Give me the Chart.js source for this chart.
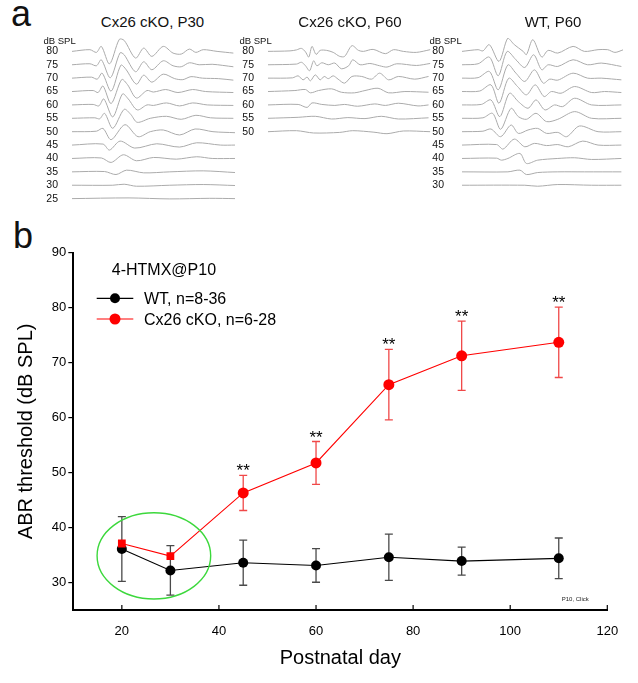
<!DOCTYPE html>
<html lang="en">
<head>
<meta charset="UTF-8">
<title>ABR threshold after 4-HTMX@P10</title>
<script src="https://cdn.jsdelivr.net/npm/chart.js@4.4.1/dist/chart.umd.min.js"></script>
<style>
	html, body { margin: 0; padding: 0; background: #fff; }
	#fig { position: relative; width: 638px; height: 683px; overflow: hidden; font-family: "Liberation Sans", Arial, sans-serif; color: #111; }
	#fig canvas, #fig .txt { position: absolute; }
	.txt { line-height: 1; white-space: nowrap; }
</style>
</head>
<body>
<div id="fig">
	<div class="txt" style="left:11px;top:-4px;font-size:36px">a</div>
	<div class="txt" style="left:13px;top:218px;font-size:36px">b</div>
	<canvas id="wave0" width="10" height="10"></canvas>
	<canvas id="wave1" width="10" height="10"></canvas>
	<canvas id="wave2" width="10" height="10"></canvas>
	<canvas id="mainChart" width="638" height="468" style="left:0;top:215px"></canvas>
</div>

<script>
// ---- panel a: ABR waveforms, [time ms, amplitude] pairs ----
const panelTitles = ["Cx26 cKO, P30", "Cx26 cKO, P60", "WT, P60"]

const p30Levels = [80, 75, 70, 65, 60, 55, 50, 45, 40, 35, 30, 25]
const p30Traces = [
	[[0,0],[1.1,1.7],[1.5,-1],[1.8,5],[2.3,-12.5],[2.9,12],[3.2,11],[3.9,-6.7],[4.4,3.3],[4.9,-5],[5.6,5],[6.2,-1.7],[6.7,-2.7],[7.2,2.3],[7.6,-1],[8.05,1.7],[8.9,0],[9.9,-1.7]],
	[[0,0],[1.1,1],[1.5,-1],[1.8,5],[2.35,-13],[2.95,12],[3.2,10],[3.9,-7],[4.4,3],[4.9,-5],[5.6,4],[6.2,-1],[6.7,-2],[7.2,2],[7.8,0],[8.6,0.5],[9.9,-2]],
	[[0,0],[1.2,1],[1.55,-1],[1.85,5],[2.4,-13],[3.0,13],[3.3,9],[3.95,-6],[4.4,3],[4.9,-4],[5.6,4],[6.3,-0.5],[6.8,-1.5],[7.3,1.5],[8.0,0],[9.0,-0.5],[9.9,-2]],
	[[0,0],[1.3,1],[1.6,-1],[1.9,5.5],[2.4,-12],[3.05,12],[3.4,7],[3.95,-6.5],[4.6,1],[5.0,-0.5],[5.75,2],[6.5,-1],[7.4,2],[8.2,0],[9.9,-1]],
	[[0,0],[1.3,0.5],[1.65,-1],[1.95,6],[2.5,-12],[3.1,11],[3.45,6],[4.0,-5],[4.6,0],[5.0,-0.5],[5.8,2],[6.6,-1],[7.4,2],[8.3,0],[9.9,-0.5]],
	[[0,0],[1.4,0.5],[1.7,-0.5],[2.0,5],[2.5,-10],[3.2,9],[3.6,4],[4.0,-4],[4.8,0],[5.8,2],[6.7,-1],[7.6,3],[8.5,0.5],[9.9,0]],
	[[0,0],[1.5,0.5],[1.9,3.3],[2.4,-8],[3.25,7],[4.05,-5],[4.8,0],[5.6,1.7],[6.6,-3.3],[7.55,2.7],[8.65,0],[10,-1]],
	[[0,0],[1.9,1],[2.3,-5],[2.95,4],[3.85,-3],[5.2,1.3],[6.6,-2],[7.65,2.3],[9.1,0],[10,0]],
	[[0,0],[1.8,0.5],[2.4,-4],[3.15,3.7],[3.95,-2.3],[5.0,1],[6.4,-0.7],[7.65,1.7],[8.6,0],[10,0]],
	[[0,0],[2.0,0.3],[2.7,-2.7],[3.35,1.7],[4.4,-1],[6.0,0],[8.05,1],[10,-0.7]],
	[[0,0],[2.5,0],[3.2,1],[3.95,-1],[6.0,0],[8.05,0.7],[10,-0.3]],
	[[0,0],[3.5,0.7],[6.0,-0.3],[8.45,0.3],[10,0]]
]

const p60KoLevels = [80, 75, 70, 65, 60, 55, 50]
const p60KoTraces = [
	[[0,0],[1.35,0.5],[1.75,1.5],[2.05,3],[2.3,-0.5],[2.5,-5.7],[2.7,5],[2.95,-3],[3.2,1],[3.6,1],[4.0,-1],[4.4,-5],[4.7,-5],[5.15,5.7],[5.55,1],[5.85,0],[6.45,2],[7.2,-2.3],[7.7,1.7],[8.3,0],[9.1,-1],[9.95,1.7]],
	[[0,0],[1.75,0.7],[2.05,2.5],[2.3,-1],[2.55,-6],[2.8,4],[3.0,-1],[3.3,2],[3.7,0],[4.1,1.7],[4.5,-4],[4.95,-1],[5.2,5],[5.65,0],[6.25,1.3],[6.85,-1],[7.3,-2.3],[7.9,1],[9.1,-0.7],[9.95,1.3]],
	[[0,0],[1.5,0.3],[1.85,2.3],[2.15,-1.7],[2.4,1],[2.6,-2.7],[2.9,3.3],[3.2,-1.7],[3.45,1.7],[3.7,-0.5],[4.0,2.3],[4.3,-1],[4.7,-5],[5.15,1.7],[5.75,1.7],[6.35,-1],[6.85,5],[7.4,-1.7],[8.0,1.7],[9.0,-1],[9.85,1.7]],
	[[0,0],[1.65,1],[2.3,2],[2.6,-1.3],[3.1,1],[3.9,2.7],[4.5,-0.7],[5.3,-1.3],[5.95,1],[6.75,3.3],[7.4,-1.3],[8.4,0],[9.85,-0.7]],
	[[0,0],[1.85,0.5],[2.4,-2.5],[2.7,2],[3.3,0.5],[4.1,-0.5],[4.7,0.5],[5.5,-1.3],[6.55,1],[7.2,-0.5],[8.0,1.7],[9.2,-1],[9.85,0]],
	[[0,0],[1.85,1],[2.9,2],[3.9,-0.7],[4.9,0.7],[5.95,-0.3],[6.95,2],[8.0,-0.7],[9.85,0.5]],
	[[0,0],[1.75,1],[2.8,-1.3],[4.4,-0.7],[5.2,1],[6.5,-0.5],[7.3,-2],[8.3,0.7],[9.95,0]]
]

const p60WtLevels = [80, 75, 70, 65, 60, 55, 50, 45, 40, 35, 30]
const p60WtTraces = [
	[[0,0],[1.0,1.7],[1.3,0.5],[1.7,6.7],[2.3,-10],[2.85,13.3],[3.25,6.7],[3.8,0],[4.0,-3.3],[4.4,11.7],[4.95,-5.7],[5.35,1],[5.95,-1.7],[6.9,5],[7.6,0],[8.45,1.7],[9.05,1.7],[9.5,-1],[10,1.5]],
	[[0,0],[1.0,1],[1.7,7.7],[2.25,-11],[2.8,13.3],[3.35,5],[3.9,-2.7],[4.45,10],[4.95,-5],[5.35,0],[5.95,-1.7],[6.9,5],[7.8,0],[8.65,1.7],[9.9,-1.7]],
	[[0,0],[1.0,0.5],[1.7,6.7],[2.25,-11.7],[2.85,13.3],[3.35,5],[3.9,-3.3],[4.5,8.3],[5.05,-5],[5.45,-1],[5.95,-2],[6.9,5],[7.8,0],[8.65,0],[9.9,-1.7]],
	[[0,0],[1.1,0.5],[1.8,6.7],[2.3,-11.7],[2.9,13.3],[3.45,5],[4.0,-3.3],[4.55,6.7],[5.1,-5],[5.55,0],[6.15,-1.7],[7.0,5],[8.05,-1],[8.85,0],[9.9,-1]],
	[[0,0],[1.2,0.5],[1.8,5],[2.35,-11.7],[2.95,11.7],[3.5,3.3],[4.1,-3.3],[4.6,5],[5.15,-5],[5.75,0],[6.25,-1.7],[7.0,6.7],[8.05,0],[9.9,0]],
	[[0,0],[1.3,0.5],[1.9,5],[2.4,-11],[3.05,10],[3.5,1.7],[4.0,-1],[4.6,5],[5.25,-3.3],[5.95,-1],[7.0,6.7],[8.05,0],[9.9,0]],
	[[0,0],[1.3,0.5],[1.8,2.7],[2.4,-5],[3.05,6.7],[3.5,-1.7],[4.1,1.7],[4.7,3.3],[5.25,-1.7],[5.95,-0.7],[6.5,-5],[7.3,5.7],[8.45,0],[9.9,0]],
	[[0,0],[2.15,0.5],[2.55,-4],[3.25,6],[3.9,-1.7],[4.5,1.7],[5.25,-0.5],[5.95,0.5],[6.6,-1.7],[7.5,4],[8.45,0],[9.9,0]],
	[[0,0],[2.15,0.3],[2.45,-1.7],[2.85,0],[3.6,5],[4.0,-5],[4.7,-1.7],[5.95,0],[7.0,0.7],[8.05,-1],[9.9,0]],
	[[0,0],[2.85,0],[3.6,1.7],[4.0,-2.7],[4.7,-0.7],[5.95,0],[7.6,0],[9.9,0]],
	[[0,0],[3.9,0],[4.7,-1],[5.95,0.7],[8.05,0],[9.9,0]]
]

// ---- panel b: thresholds ----
const days = [20, 30, 45, 60, 75, 90, 110]
const wtMean = [36.1, 32.2, 33.6, 33.1, 34.6, 33.9, 34.4]
const wtErr = [5.9, 4.5, 4.1, 3.05, 4.2, 2.55, 3.7]
const koMean = [37.1, 34.8, 46.3, 51.75, 66.0, 71.25, 73.7]
const koErr = [0, 0, 3.2, 3.9, 6.4, 6.3, 6.4]
const koMarker = ["rect", "rect", "circle", "circle", "circle", "circle", "circle"]
const koStars = ["", "", "**", "**", "**", "**", "**"]
const xTicks = [20, 40, 60, 80, 100, 120]
const yTicks = [30, 40, 50, 60, 70, 80, 90]
const seriesLabels = ["WT, n=8-36", "Cx26 cKO, n=6-28"]
const legendTitle = "4-HTMX@P10"
const circledRegion = {x: 26.6, y: 34.85, rx: 11.7, ry: 7.85}

const FONT = '"Liberation Sans", Arial, sans-serif'
const fig = document.getElementById("fig")

function addText(text, left, top, size, center) {
	const d = document.createElement("div")
	d.className = "txt"
	d.textContent = text
	d.style.left = left + "px"
	d.style.top = top + "px"
	d.style.fontSize = size + "px"
	if(center) d.style.transform = "translateX(-50%)"
	fig.appendChild(d)
}

// panel a
const panels = [
	{levels: p30Levels, traces: p30Traces, start: 72, end: 235, pad: 6, titleX: 152.5, unitX: 43.5},
	{levels: p60KoLevels, traces: p60KoTraces, start: 268, end: 431, pad: 6, titleX: 350, unitX: 239.5},
	{levels: p60WtLevels, traces: p60WtTraces, start: 462, end: 623, pad: 10, titleX: 553, unitX: 429.5}
]
const traceGain = 5 / 13.4

panels.forEach((p, i) => {
	addText(panelTitles[i], p.titleX, 13.5, 15, true)
	addText("dB SPL", p.unitX, 36, 9.5, false)

	const cv = document.getElementById("wave" + i)
	const left = p.start - 40
	cv.width = p.end - left
	cv.height = 174
	cv.style.left = left + "px"
	cv.style.top = "38px"

	new Chart(cv, {
		type: "line",
		data: {
			datasets: p.traces.map((tr, j) => ({
				data: tr.map(pt => ({x: pt[0], y: p.levels[j] + pt[1] * traceGain})),
				borderColor: "#ababab",
				borderWidth: 1,
				pointRadius: 0,
				tension: 0.3,
				fill: false
			}))
		},
		options: {
			responsive: false,
			animation: false,
			events: [],
			plugins: {legend: {display: false}, tooltip: {enabled: false}},
			scales: {
				x: {type: "linear", display: false, min: 0, max: 10},
				y: {
					type: "linear", min: 20, max: 85,
					grid: {display: false},
					border: {display: false},
					ticks: {color: "#111", padding: p.pad, autoSkip: false, font: {family: FONT, size: 10.5}},
					afterBuildTicks: s => { s.ticks = p.levels.map(v => ({value: v})) },
					afterFit: s => { s.width = 40; s.paddingTop = 0; s.paddingBottom = 0 }
				}
			}
		}
	})
})

// panel b
const errorBars = {
	id: "errorBars",
	beforeDatasetsDraw(chart) {
		const {ctx, scales: {x, y}} = chart
		chart.data.datasets.forEach(ds => {
			ctx.save()
			ctx.strokeStyle = ds.errColor
			ctx.lineWidth = 1.3
			ds.data.forEach((pt, i) => {
				const e = ds.errors[i]
				if(!e) return
				const px = x.getPixelForValue(pt.x)
				const top = y.getPixelForValue(pt.y + e)
				const bot = y.getPixelForValue(pt.y - e)
				ctx.beginPath()
				ctx.moveTo(px, top); ctx.lineTo(px, bot)
				ctx.moveTo(px - 4, top); ctx.lineTo(px + 4, top)
				ctx.moveTo(px - 4, bot); ctx.lineTo(px + 4, bot)
				ctx.stroke()
			})
			ctx.restore()
		})
	}
}

const extras = {
	id: "extras",
	afterDatasetsDraw(chart) {
		const {ctx, chartArea: a, scales: {x, y}} = chart
		ctx.save()

		// green ellipse around the early time points
		const cx = x.getPixelForValue(circledRegion.x)
		const cy = y.getPixelForValue(circledRegion.y)
		const rx = x.getPixelForValue(circledRegion.x + circledRegion.rx) - cx
		const ry = cy - y.getPixelForValue(circledRegion.y + circledRegion.ry)
		ctx.strokeStyle = "#3cd83c"
		ctx.lineWidth = 1.4
		ctx.beginPath()
		ctx.ellipse(cx, cy, rx, ry, 0, 0, Math.PI * 2)
		ctx.stroke()

		// significance stars
		ctx.fillStyle = "#000"
		ctx.font = `17px ${FONT}`
		ctx.textAlign = "center"
		ctx.textBaseline = "alphabetic"
		days.forEach((d, i) => {
			if(!koStars[i]) return
			ctx.fillText(koStars[i], x.getPixelForValue(d), y.getPixelForValue(koMean[i] + koErr[i]) + 1)
		})

		// inward x ticks
		ctx.strokeStyle = "#000"
		ctx.lineWidth = 1.2
		xTicks.forEach(v => {
			const px = x.getPixelForValue(v)
			ctx.beginPath()
			ctx.moveTo(px, a.bottom)
			ctx.lineTo(px, a.bottom - 5)
			ctx.stroke()
		})

		// axis titles
		ctx.fillStyle = "#000"
		ctx.font = `20px ${FONT}`
		ctx.textAlign = "center"
		ctx.fillText("Postnatal day", (a.left + a.right) / 2, a.bottom + 54)
		ctx.save()
		ctx.translate(31.5, (a.top + a.bottom) / 2)
		ctx.rotate(-Math.PI / 2)
		ctx.fillText("ABR threshold (dB SPL)", 0, 0)
		ctx.restore()

		// legend
		ctx.textAlign = "left"
		ctx.font = `16px ${FONT}`
		ctx.fillText(legendTitle, a.left + 38.5, a.top + 22.3)
		chart.data.datasets.forEach((ds, i) => {
			const ly = a.top + 45.6 + i * 20.7
			ctx.strokeStyle = ds.borderColor
			ctx.lineWidth = 1.2
			ctx.beginPath()
			ctx.moveTo(a.left + 23.4, ly)
			ctx.lineTo(a.left + 60, ly)
			ctx.stroke()
			ctx.fillStyle = ds.backgroundColor
			ctx.beginPath()
			ctx.arc(a.left + 41.7, ly, ds.legendRadius, 0, Math.PI * 2)
			ctx.fill()
			ctx.fillStyle = "#000"
			ctx.fillText(ds.label, a.left + 70.7, ly + 5.5)
		})

		// tiny note
		ctx.font = `6px ${FONT}`
		ctx.fillStyle = "#222"
		ctx.fillText("P10, Click", a.right - 45.6, a.bottom - 9)
		ctx.restore()
	}
}

new Chart(document.getElementById("mainChart"), {
	type: "line",
	data: {
		datasets: [
			{
				label: seriesLabels[0],
				data: days.map((d, i) => ({x: d, y: wtMean[i]})),
				errors: wtErr,
				errColor: "#4a4a4a",
				legendRadius: 5,
				borderColor: "#000",
				backgroundColor: "#000",
				borderWidth: 1.1,
				pointRadius: 5,
				pointBorderWidth: 0,
				order: 2
			},
			{
				label: seriesLabels[1],
				data: days.map((d, i) => ({x: d, y: koMean[i]})),
				errors: koErr,
				errColor: "#f04848",
				legendRadius: 5.5,
				borderColor: "#ff0000",
				backgroundColor: "#ff0000",
				borderWidth: 1.1,
				pointRadius: 5.5,
				pointBorderWidth: 0,
				pointStyle: koMarker,
				order: 1
			}
		]
	},
	options: {
		responsive: false,
		animation: false,
		events: [],
		layout: {padding: {left: 0, top: 37.7, right: 30.7, bottom: 43}},
		plugins: {legend: {display: false}, tooltip: {enabled: false}},
		scales: {
			x: {
				type: "linear", min: 10, max: 120,
				grid: {display: false},
				border: {display: true, color: "#000", width: 2},
				ticks: {color: "#000", padding: 6, maxRotation: 0, font: {family: FONT, size: 13}},
				afterBuildTicks: s => { s.ticks = xTicks.map(v => ({value: v})) },
				afterFit: s => { s.height = 30; s.paddingLeft = 0; s.paddingRight = 0 }
			},
			y: {
				type: "linear", min: 25, max: 90,
				grid: {display: true, drawOnChartArea: false, drawTicks: true, tickLength: 5, color: "#000", lineWidth: 1.2},
				border: {display: true, color: "#000", width: 2},
				ticks: {color: "#000", padding: 2, font: {family: FONT, size: 13}},
				afterBuildTicks: s => { s.ticks = yTicks.map(v => ({value: v})) },
				afterFit: s => { s.width = 73.3; s.paddingTop = 0; s.paddingBottom = 0 }
			}
		}
	},
	plugins: [errorBars, extras]
})
</script>
</body>
</html>
